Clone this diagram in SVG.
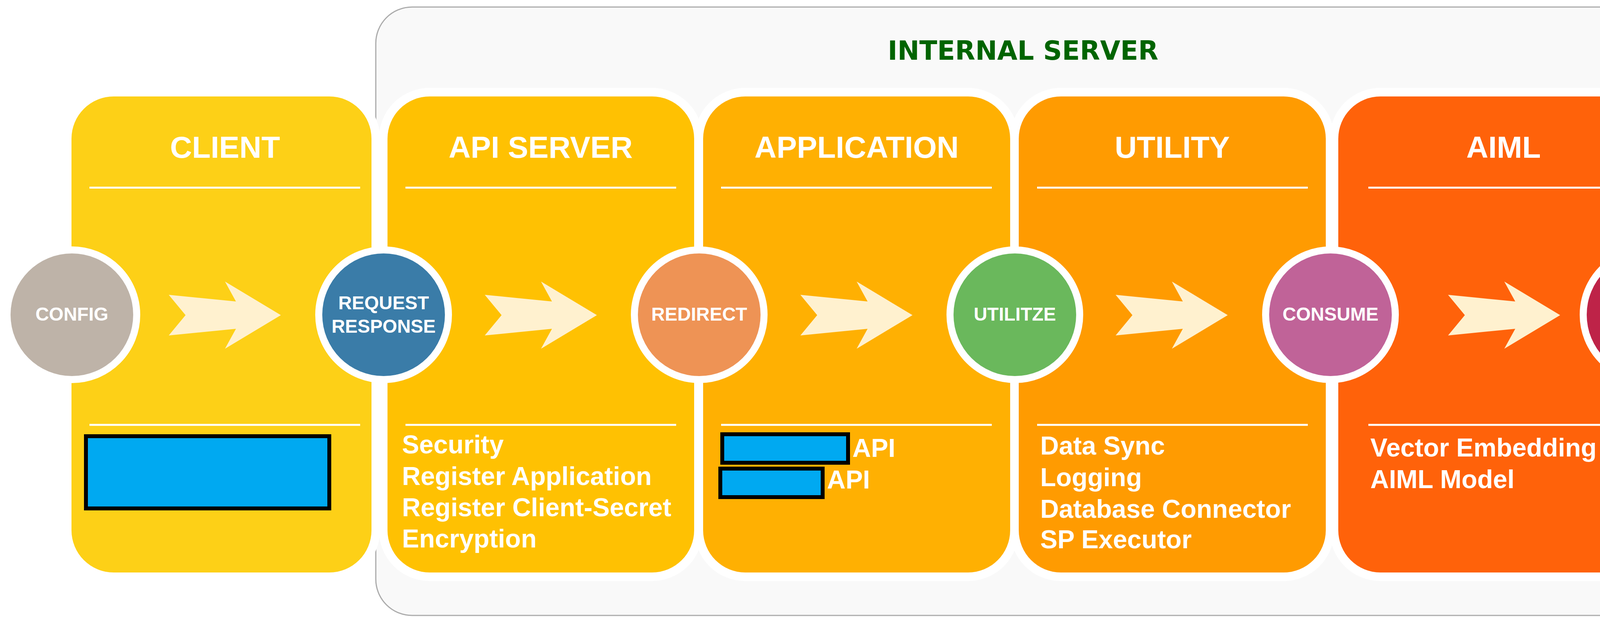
<svg xmlns="http://www.w3.org/2000/svg" width="4400" height="1580" viewBox="0 0 4400 1580">
<style>
.title{font-family:"Liberation Sans",Arial,sans-serif;font-weight:bold;font-size:78px;fill:#fff;text-anchor:middle}
.item{font-family:"Liberation Sans",Arial,sans-serif;font-weight:bold;font-size:66px;fill:#fff}
.ctext{font-family:"Liberation Sans",Arial,sans-serif;font-weight:bold;font-size:48px;fill:#fff;text-anchor:middle}
.card{stroke:#fff;stroke-width:44;paint-order:stroke}
.div{stroke:#fff;stroke-width:5}
.node{stroke:#fff;stroke-width:36;paint-order:stroke}
.blue{fill:#00A9F1;stroke:#000;stroke-width:10}
.arrow{fill:#FFF1CF}
</style>
<defs>
<polygon id="arr" points="0,755 172,772 144,721 287,807 144,893 172,842 0,859 43,807"/>
</defs>
<rect width="4400" height="1580" fill="#fff"/>
<g id="internal-server">
<rect x="962" y="18" width="3435" height="1558" rx="93" ry="93" fill="#F9F9F9" stroke="#ABABAB" stroke-width="3"/>
<text x="2619" y="153" font-family="DejaVu Sans,Verdana,sans-serif" font-weight="bold" font-size="67" fill="#006400" text-anchor="middle">INTERNAL SERVER</text>
</g>
<g id="client">
<rect class="card" x="183" y="247" width="768" height="1219" rx="108" fill="#FDD017"/>
<text class="title" x="576" y="404">CLIENT</text>
<line class="div" x1="229" y1="480.5" x2="922" y2="480.5"/>
<line class="div" x1="229" y1="1088" x2="922" y2="1088"/>
<rect class="blue" x="220" y="1117" width="623" height="185"/>
</g>
<g id="api-server">
<rect class="card" x="992" y="247" width="785" height="1219" rx="108" fill="#FFC102"/>
<text class="title" x="1384" y="404">API SERVER</text>
<line class="div" x1="1038" y1="480.5" x2="1731" y2="480.5"/>
<line class="div" x1="1038" y1="1088" x2="1731" y2="1088"/>
<text class="item" x="1029" y="1161">Security</text>
<text class="item" x="1029" y="1242">Register Application</text>
<text class="item" x="1029" y="1322">Register Client-Secret</text>
<text class="item" x="1029" y="1402">Encryption</text>
</g>
<g id="application">
<rect class="card" x="1800" y="247" width="786" height="1219" rx="108" fill="#FFB002"/>
<text class="title" x="2193" y="404">APPLICATION</text>
<line class="div" x1="1846" y1="480.5" x2="2539" y2="480.5"/>
<line class="div" x1="1846" y1="1088" x2="2539" y2="1088"/>
<rect class="blue" x="1849" y="1112" width="322" height="73"/>
<text class="item" x="2182" y="1170">API</text>
<rect class="blue" x="1844" y="1200" width="262" height="73"/>
<text class="item" x="2117" y="1251">API</text>
</g>
<g id="utility">
<rect class="card" x="2608" y="247" width="786" height="1219" rx="108" fill="#FF9B01"/>
<text class="title" x="3001" y="404">UTILITY</text>
<line class="div" x1="2655" y1="480.5" x2="3348" y2="480.5"/>
<line class="div" x1="2655" y1="1088" x2="3348" y2="1088"/>
<text class="item" x="2663" y="1164">Data Sync</text>
<text class="item" x="2663" y="1245">Logging</text>
<text class="item" x="2663" y="1326">Database Connector</text>
<text class="item" x="2663" y="1404">SP Executor</text>
</g>
<g id="aiml">
<rect class="card" x="3426" y="247" width="785" height="1219" rx="108" fill="#FF620A"/>
<text class="title" x="3849" y="404">AIML</text>
<line class="div" x1="3503" y1="480.5" x2="4196" y2="480.5"/>
<line class="div" x1="3503" y1="1088" x2="4196" y2="1088"/>
<text class="item" x="3508" y="1169">Vector Embedding</text>
<text class="item" x="3508" y="1250">AIML Model</text>
</g>
<g id="connectors">
<use href="#arr" class="arrow" transform="translate(432,0)"/>
<use href="#arr" class="arrow" transform="translate(1241,0)"/>
<use href="#arr" class="arrow" transform="translate(2049,0)"/>
<use href="#arr" class="arrow" transform="translate(2856,0)"/>
<use href="#arr" class="arrow" transform="translate(3707,0)"/>
</g>
<g id="config">
<circle class="node" cx="184" cy="806" r="157" fill="#BEB3A8"/>
<text class="ctext" x="184" y="821">CONFIG</text>
</g>
<g id="request-response">
<circle class="node" cx="982" cy="806" r="157" fill="#3A7CA8"/>
<text class="ctext" x="982" y="792">REQUEST</text>
<text class="ctext" x="982" y="852">RESPONSE</text>
</g>
<g id="redirect">
<circle class="node" cx="1790" cy="806" r="157" fill="#EE9355"/>
<text class="ctext" x="1790" y="821">REDIRECT</text>
</g>
<g id="utilitze">
<circle class="node" cx="2598" cy="806" r="157" fill="#6AB85C"/>
<text class="ctext" x="2598" y="821">UTILITZE</text>
</g>
<g id="consume">
<circle class="node" cx="3406" cy="806" r="157" fill="#C06398"/>
<text class="ctext" x="3406" y="821">CONSUME</text>
</g>
<g id="process">
<circle class="node" cx="4219" cy="806" r="157" fill="#BE2348"/>
<text class="ctext" x="4219" y="821">PROCESS</text>
</g>
</svg>
